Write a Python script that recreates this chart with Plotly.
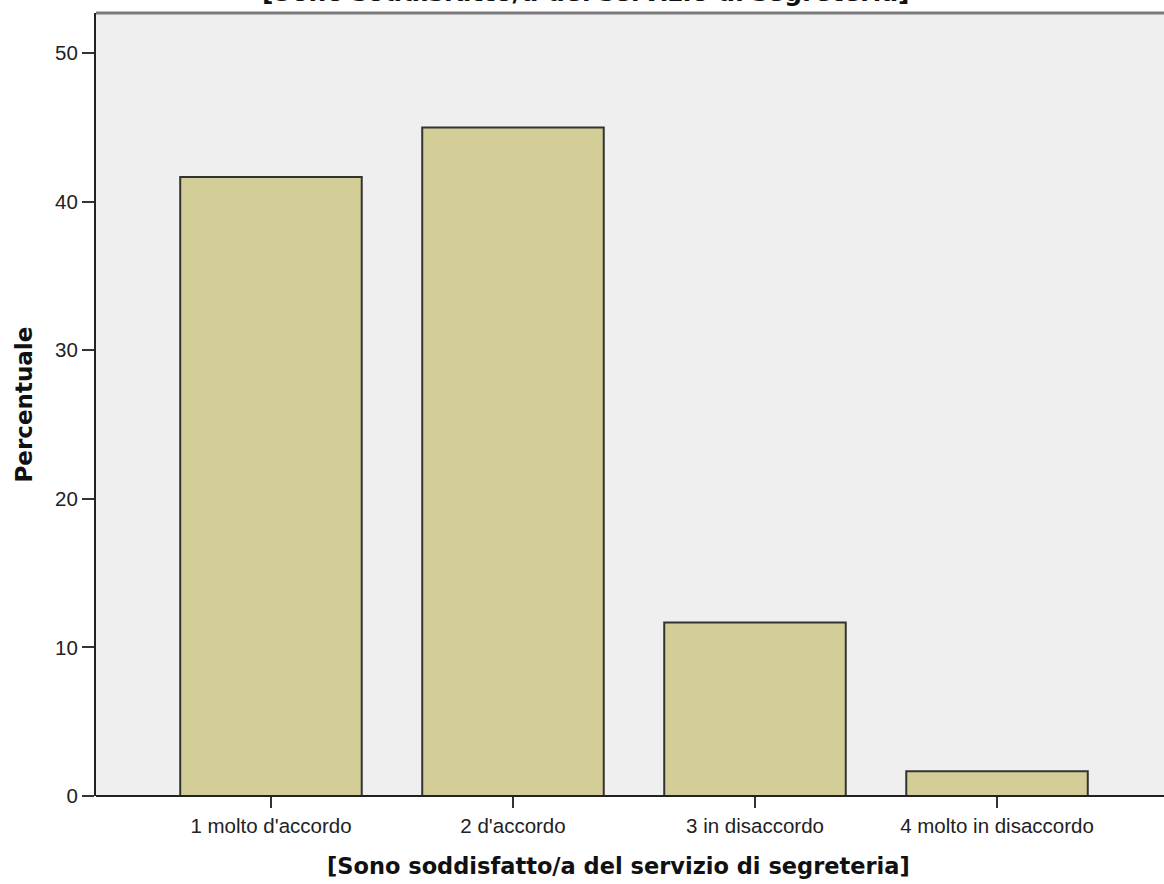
import plotly.graph_objects as go

categories = ["1 molto d'accordo", "2 d'accordo", "3 in disaccordo", "4 molto in disaccordo"]
percentages = [41.67, 45.0, 11.67, 1.67]
y_ticks = [0, 10, 20, 30, 40, 50]
title_text = "[Sono soddisfatto/a del servizio di segreteria]"
y_title = "Percentuale"

fig = go.Figure()
fig.add_trace(go.Bar(
    x=categories,
    y=percentages,
    width=0.75,
    marker=dict(color="#D3CE97", line=dict(color="#333333", width=2)),
    hoverinfo="x+y",
))

tick_font = dict(family="Liberation Sans, Arial", size=20.5, color="#222222")
bold_font = "DejaVu Sans, Verdana"

fig.update_layout(
    width=1164,
    height=884,
    margin=dict(l=96, r=0, t=13, b=88, pad=0),
    plot_bgcolor="#EFEFEF",
    paper_bgcolor="white",
    showlegend=False,
    xaxis=dict(
        type="category",
        range=[-0.723, 3.69],
        showgrid=False,
        zeroline=False,
        showline=False,
        ticks="outside",
        ticklen=11,
        tickwidth=2,
        tickcolor="#333333",
        tickfont=tick_font,
    ),
    yaxis=dict(
        range=[0, 52.7],
        tickvals=y_ticks,
        showgrid=False,
        zeroline=False,
        showline=True,
        linecolor="#222222",
        linewidth=2,
        ticks="outside",
        ticklen=12,
        tickwidth=2,
        tickcolor="#333333",
        tickfont=tick_font,
    ),
    shapes=[
        dict(type="line", xref="paper", yref="paper", x0=0, x1=1, y0=0, y1=0,
             line=dict(color="#222222", width=2)),
        dict(type="line", xref="paper", yref="paper", x0=0, x1=1, y0=1, y1=1,
             line=dict(color="#7A7A7A", width=3)),
    ],
    annotations=[
        dict(text=title_text, xref="paper", yref="paper", x=(618 - 96) / 1068, y=-0.089,
             xanchor="center", yanchor="middle", showarrow=False,
             font=dict(family=bold_font, size=22.5, color="#111111", weight="bold")),
        dict(text=title_text, xref="paper", yref="paper", x=(586 - 96) / 1068, y=1.0052,
             xanchor="center", yanchor="bottom", showarrow=False,
             font=dict(family=bold_font, size=25, color="#111111", weight="bold")),
        dict(text=y_title, xref="paper", yref="paper", x=-(96 - 23) / 1068, y=0.5,
             xanchor="center", yanchor="middle", textangle=-90, showarrow=False,
             font=dict(family=bold_font, size=23, color="#111111", weight="bold")),
    ],
)

fig.write_html(
    "out.html",
    config={"displayModeBar": False},
    post_script="document.body.style.margin='0';document.body.style.overflow='hidden';",
)
